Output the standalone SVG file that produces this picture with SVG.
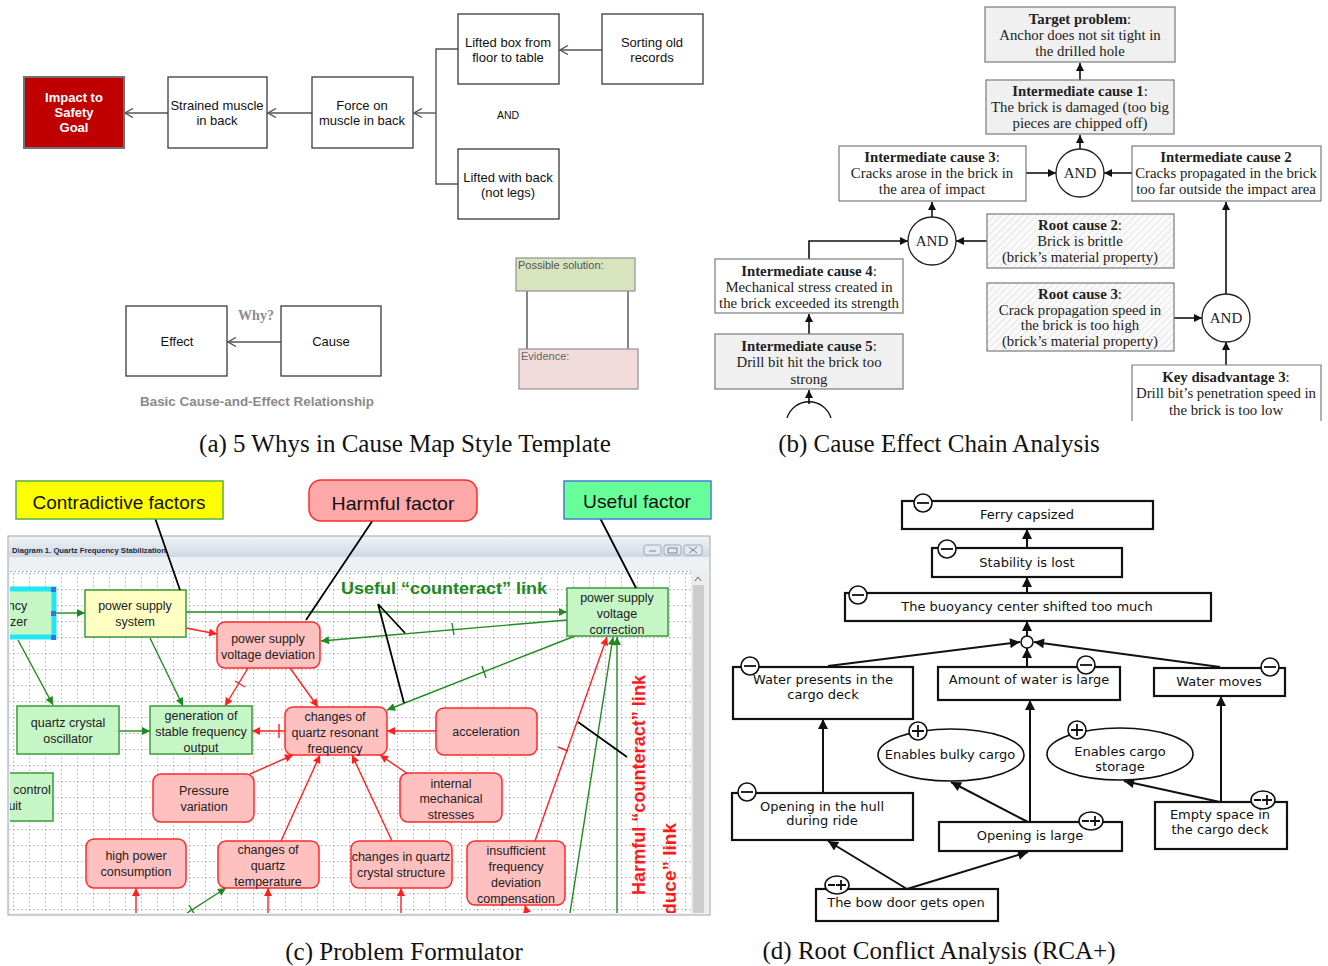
<svg xmlns="http://www.w3.org/2000/svg" width="1328" height="966" viewBox="0 0 1328 966">
<defs>
<style>
.a-box{fill:#fff;stroke:#3a3a3a;stroke-width:1.3}
.a-t{font-family:"Liberation Sans",Arial,sans-serif;font-size:13px;fill:#111;text-anchor:middle}
.a-ln{fill:none;stroke:#555;stroke-width:1.4}
.b-box{fill:#fff;stroke:#7a7a7a;stroke-width:1.2}
.b-gray{fill:#f0f0f0}
.b-hatch{fill:url(#hatch)}
.b-t{font-family:"Liberation Serif","Times New Roman",serif;font-size:14.8px;fill:#222;text-anchor:middle}
.b-ln{fill:none;stroke:#111;stroke-width:1.6}
.b-and{fill:#fff;stroke:#222;stroke-width:1.3}
.cap{font-family:"Liberation Serif","Times New Roman",serif;font-size:25px;fill:#111;text-anchor:middle}
.c-g{fill:#c6f5c6;stroke:#3b9a3b;stroke-width:1.5}
.c-y{fill:#ffffc4;stroke:#3b9a3b;stroke-width:1.5}
.c-r{fill:#ffc0c0;stroke:#ff2a2a;stroke-width:1.5}
.c-t{font-family:"Liberation Sans",Arial,sans-serif;font-size:12.5px;fill:#222;text-anchor:middle}
.c-gl{fill:none;stroke:#1f8a1f;stroke-width:1.4}
.c-rl{fill:none;stroke:#ff2020;stroke-width:1.4}
.c-bl{fill:none;stroke:#000;stroke-width:1.8}
.c-call{font-family:"Liberation Sans",Arial,sans-serif;font-size:19px;fill:#111;text-anchor:middle}
.d-box{fill:#fff;stroke:#111;stroke-width:2.2}
.d-t{font-family:"DejaVu Sans",Verdana,sans-serif;font-size:13px;fill:#111;text-anchor:middle}
.d-ln{fill:none;stroke:#111;stroke-width:2}
.sym{fill:#fff;stroke:#111;stroke-width:1.6}
.symln{fill:none;stroke:#111;stroke-width:1.8}
</style>
<pattern id="hatch" width="5" height="5" patternUnits="userSpaceOnUse" patternTransform="rotate(45)">
<rect width="5" height="5" fill="#fafafa"/>
<line x1="0" y1="0" x2="0" y2="5" stroke="#d2d2d2" stroke-width="1"/>
</pattern>
<pattern id="grid" x="13" y="573" width="16" height="16" patternUnits="userSpaceOnUse">
<path d="M0,0.5 H16 M0.5,0 V16" stroke="#b5b5b5" stroke-width="0.8" stroke-dasharray="2,2" fill="none"/>
</pattern>
<linearGradient id="title" x1="0" y1="0" x2="0" y2="1">
<stop offset="0" stop-color="#eef2f7"/>
<stop offset="1" stop-color="#cfd9e4"/>
</linearGradient>
<clipPath id="gridclip"><rect x="10" y="571" width="681" height="342"/></clipPath>
<clipPath id="bclip"><rect x="700" y="0" width="628" height="418"/></clipPath>
<marker id="mA" viewBox="0 0 10 10" refX="9" refY="5" markerWidth="10" markerHeight="10" orient="auto" markerUnits="userSpaceOnUse">
<path d="M1,0.5 L9,5 L1,9.5" fill="none" stroke="#555" stroke-width="1.4"/>
</marker>
<marker id="mB" viewBox="0 0 10 10" refX="10" refY="5" markerWidth="9" markerHeight="8" orient="auto" markerUnits="userSpaceOnUse">
<path d="M0,0 L10,5 L0,10 z" fill="#111"/>
</marker>
<marker id="mD" viewBox="0 0 10 10" refX="10" refY="5" markerWidth="11" markerHeight="10" orient="auto" markerUnits="userSpaceOnUse">
<path d="M0,0 L10,5 L0,10 z" fill="#111"/>
</marker>
<marker id="mG" viewBox="0 0 10 10" refX="10" refY="5" markerWidth="10" markerHeight="8" orient="auto" markerUnits="userSpaceOnUse">
<path d="M0,0 L10,5 L0,10 z" fill="#1f8a1f"/>
</marker>
<marker id="mR" viewBox="0 0 10 10" refX="10" refY="5" markerWidth="10" markerHeight="8" orient="auto" markerUnits="userSpaceOnUse">
<path d="M0,0 L10,5 L0,10 z" fill="#ff2020"/>
</marker>
</defs>
<rect width="1328" height="966" fill="#fff"/>

<!-- ================= Panel (a) ================= -->
<g id="panel-a">
<g id="a-connectors">
<path class="a-ln" d="M168,113 H125" marker-end="url(#mA)"/>
<path class="a-ln" d="M312,113 H268" marker-end="url(#mA)"/>
<path class="a-ln" d="M436,113 H414" marker-end="url(#mA)"/>
<path class="a-ln" d="M458,49 H436 V184 H458"/>
<path class="a-ln" d="M602,50 H560" marker-end="url(#mA)"/>
<path class="a-ln" d="M281,342 H228" marker-end="url(#mA)"/>
<path fill="none" stroke="#444" stroke-width="1.3" d="M527,291 V349 M628,291 V349"/>
</g>
<g id="a-impact">
<rect x="24" y="77" width="100" height="71" fill="#c00000" stroke="#707070" stroke-width="2"/>
<text class="a-t" style="fill:#fff;font-weight:bold"><tspan x="74" y="102">Impact to</tspan><tspan x="74" y="117">Safety</tspan><tspan x="74" y="132">Goal</tspan></text>
</g>
<g id="a-strained">
<rect class="a-box" x="168" y="77" width="99" height="71"/>
<text class="a-t"><tspan x="217" y="110">Strained muscle</tspan><tspan x="217" y="125">in back</tspan></text>
</g>
<g id="a-force">
<rect class="a-box" x="312" y="77" width="101" height="71"/>
<text class="a-t"><tspan x="362" y="110">Force on</tspan><tspan x="362" y="125">muscle in back</tspan></text>
</g>
<g id="a-lifted-box">
<rect class="a-box" x="458" y="14" width="101" height="70"/>
<text class="a-t"><tspan x="508" y="47">Lifted box from</tspan><tspan x="508" y="62">floor to table</tspan></text>
</g>
<g id="a-sorting">
<rect class="a-box" x="602" y="14" width="101" height="70"/>
<text class="a-t"><tspan x="652" y="47">Sorting old</tspan><tspan x="652" y="62">records</tspan></text>
</g>
<g id="a-lifted-back">
<rect class="a-box" x="458" y="149" width="101" height="70"/>
<text class="a-t"><tspan x="508" y="182">Lifted with back</tspan><tspan x="508" y="197">(not legs)</tspan></text>
</g>
<text class="a-t" x="508" y="119" style="font-size:10.5px">AND</text>
<g id="a-effect">
<rect class="a-box" x="126" y="306" width="101" height="70"/>
<text class="a-t" x="177" y="346">Effect</text>
</g>
<g id="a-cause">
<rect class="a-box" x="281" y="306" width="100" height="70"/>
<text class="a-t" x="331" y="346">Cause</text>
</g>
<text x="256" y="320" text-anchor="middle" font-family="Liberation Serif,serif" font-weight="bold" font-size="14" fill="#8a8a8a">Why?</text>
<text x="257" y="406" text-anchor="middle" font-family="Liberation Sans,Arial,sans-serif" font-weight="bold" font-size="12.5" fill="#8a8a8a" textLength="234" lengthAdjust="spacingAndGlyphs">Basic Cause-and-Effect Relationship</text>
<g id="a-solution">
<rect x="516" y="258" width="119" height="33" fill="#d7e4bd" stroke="#999" stroke-width="1.3"/>
<text x="518" y="269" font-family="Liberation Sans,Arial,sans-serif" font-size="11" fill="#555">Possible solution:</text>
</g>
<g id="a-evidence">
<rect x="519" y="349" width="119" height="40" fill="#f2dcdb" stroke="#999" stroke-width="1.3"/>
<text x="521" y="360" font-family="Liberation Sans,Arial,sans-serif" font-size="11" fill="#666">Evidence:</text>
</g>
<text class="cap" x="405" y="452">(a) 5 Whys in Cause Map Style Template</text>
</g>

<!-- ================= Panel (b) ================= -->
<g id="panel-b">
<g id="b-connectors">
<path class="b-ln" d="M1080,80 V63" marker-end="url(#mB)"/>
<path class="b-ln" d="M1080,149 V135" marker-end="url(#mB)"/>
<path class="b-ln" d="M1026,173 H1056" marker-end="url(#mB)"/>
<path class="b-ln" d="M1132,173 H1104" marker-end="url(#mB)"/>
<path class="b-ln" d="M932,217 V202" marker-end="url(#mB)"/>
<path class="b-ln" d="M987,241 H956" marker-end="url(#mB)"/>
<path class="b-ln" d="M809,259 V241 H908" marker-end="url(#mB)"/>
<path class="b-ln" d="M809,334 V314" marker-end="url(#mB)"/>
<path class="b-ln" d="M1174,318 H1202" marker-end="url(#mB)"/>
<path class="b-ln" d="M1226,294 V202" marker-end="url(#mB)"/>
<path class="b-ln" d="M1226,365 V342" marker-end="url(#mB)"/>
<path class="b-ln" d="M809,404 V390" marker-end="url(#mB)" clip-path="url(#bclip)"/>
<path fill="none" stroke="#111" stroke-width="1.4" d="M787,418 A23,23 0 0 1 831,418" clip-path="url(#bclip)"/>
</g>
<g id="b-target">
<rect class="b-box b-gray" x="985" y="7" width="190" height="55"/>
<text class="b-t"><tspan x="1080" y="24"><tspan font-weight="bold">Target problem</tspan>:</tspan><tspan x="1080" y="40">Anchor does not sit tight in</tspan><tspan x="1080" y="56">the drilled hole</tspan></text>
</g>
<g id="b-ic1">
<rect class="b-box b-gray" x="986" y="80" width="188" height="54"/>
<text class="b-t"><tspan x="1080" y="96"><tspan font-weight="bold">Intermediate cause 1</tspan>:</tspan><tspan x="1080" y="112">The brick is damaged (too big</tspan><tspan x="1080" y="128">pieces are chipped off)</tspan></text>
</g>
<g id="b-and1">
<circle class="b-and" cx="1080" cy="173" r="24"/>
<text class="b-t" x="1080" y="178" style="font-size:15px">AND</text>
</g>
<g id="b-ic3">
<rect class="b-box" x="839" y="146" width="187" height="55"/>
<text class="b-t"><tspan x="932" y="162"><tspan font-weight="bold">Intermediate cause 3</tspan>:</tspan><tspan x="932" y="178">Cracks arose in the brick in</tspan><tspan x="932" y="194">the area of impact</tspan></text>
</g>
<g id="b-ic2">
<rect class="b-box" x="1132" y="146" width="189" height="55"/>
<text class="b-t"><tspan x="1226" y="162" font-weight="bold">Intermediate cause 2</tspan><tspan x="1226" y="178">Cracks propagated in the brick</tspan><tspan x="1226" y="194">too far outside the impact area</tspan></text>
</g>
<g id="b-and2">
<circle class="b-and" cx="932" cy="241" r="24"/>
<text class="b-t" x="932" y="246" style="font-size:15px">AND</text>
</g>
<g id="b-rc2">
<rect class="b-box b-hatch" x="987" y="214" width="187" height="54"/>
<text class="b-t"><tspan x="1080" y="230"><tspan font-weight="bold">Root cause 2</tspan>:</tspan><tspan x="1080" y="246">Brick is brittle</tspan><tspan x="1080" y="262">(brick’s material property)</tspan></text>
</g>
<g id="b-ic4">
<rect class="b-box" x="715" y="259" width="188" height="54"/>
<text class="b-t"><tspan x="809" y="276"><tspan font-weight="bold">Intermediate cause 4</tspan>:</tspan><tspan x="809" y="292">Mechanical stress created in</tspan><tspan x="809" y="308">the brick exceeded its strength</tspan></text>
</g>
<g id="b-ic5">
<rect class="b-box b-gray" x="715" y="334" width="188" height="55"/>
<text class="b-t"><tspan x="809" y="351"><tspan font-weight="bold">Intermediate cause 5</tspan>:</tspan><tspan x="809" y="367">Drill bit hit the brick too</tspan><tspan x="809" y="384">strong</tspan></text>
</g>
<g id="b-rc3">
<rect class="b-box b-hatch" x="987" y="283" width="187" height="68"/>
<text class="b-t"><tspan x="1080" y="299"><tspan font-weight="bold">Root cause 3</tspan>:</tspan><tspan x="1080" y="315">Crack propagation speed in</tspan><tspan x="1080" y="330">the brick is too high</tspan><tspan x="1080" y="346">(brick’s material property)</tspan></text>
</g>
<g id="b-and3">
<circle class="b-and" cx="1226" cy="318" r="24"/>
<text class="b-t" x="1226" y="323" style="font-size:15px">AND</text>
</g>
<g id="b-kd3">
<path d="M1132,421 V365 H1321 V421" fill="#fff" stroke="#7a7a7a" stroke-width="1.2"/>
<text class="b-t"><tspan x="1226" y="382"><tspan font-weight="bold">Key disadvantage 3</tspan>:</tspan><tspan x="1226" y="398">Drill bit’s penetration speed in</tspan><tspan x="1226" y="415">the brick is too low</tspan></text>
</g>
<text class="cap" x="939" y="452">(b) Cause Effect Chain Analysis</text>
</g>

<!-- ================= Panel (c) ================= -->
<g id="panel-c">
<g id="c-window">
<rect x="8" y="536" width="702" height="379" fill="#f1f3f6" stroke="#9aa5b1" stroke-width="1"/>
<rect x="9" y="537" width="700" height="20" fill="url(#title)"/>
<text x="12" y="553" font-family="Liberation Sans,Arial,sans-serif" font-weight="bold" font-size="7.5" fill="#1a2a40" textLength="154" lengthAdjust="spacingAndGlyphs">Diagram 1. Quartz Frequency Stabilization</text>
<rect x="644" y="545" width="17" height="10" rx="2" fill="#e4e9ef" stroke="#8d99a6" stroke-width="0.8"/>
<rect x="664" y="545" width="17" height="10" rx="2" fill="#e4e9ef" stroke="#8d99a6" stroke-width="0.8"/>
<rect x="684" y="545" width="18" height="10" rx="2" fill="#e4e9ef" stroke="#8d99a6" stroke-width="0.8"/>
<path d="M649,551 H656 M668,548 h9 v5 h-9 z M689,547 L697,553 M697,547 L689,553" stroke="#6c7784" stroke-width="0.9" fill="none"/>
<rect x="9" y="557" width="700" height="14" fill="#eef1f4"/>
<rect x="10" y="571" width="681" height="342" fill="#fff"/>
<rect x="10" y="571" width="681" height="342" fill="url(#grid)"/>
<line x1="10" y1="571.5" x2="691" y2="571.5" stroke="#999" stroke-width="0.8" stroke-dasharray="2,2"/>
<rect x="691" y="571" width="17" height="342" fill="#ececec"/>
<rect x="693" y="585" width="11" height="328" fill="#cdcdcd"/>
<path d="M695,581 L698,577 L701,581" fill="none" stroke="#666" stroke-width="1"/>
</g>

<g id="c-connectors" clip-path="url(#gridclip)">
<path class="c-gl" d="M56,613 H85" marker-end="url(#mG)"/>
<path class="c-gl" d="M186,612 H567" marker-end="url(#mG)"/>
<path class="c-gl" d="M567,620 L321,641" marker-end="url(#mG)"/>
<path class="c-gl" d="M452,623 L454,635"/>
<path class="c-gl" d="M575,636 L387,710" marker-end="url(#mG)"/>
<path class="c-gl" d="M482,666 L486,678"/>
<path class="c-gl" d="M150,638 L183,706" marker-end="url(#mG)"/>
<path class="c-gl" d="M18,640 L53,705" marker-end="url(#mG)"/>
<path class="c-gl" d="M119,731 H150" marker-end="url(#mG)"/>
<path class="c-gl" d="M570,913 L613,637" marker-end="url(#mG)"/>
<path class="c-gl" d="M617,913 V637" marker-end="url(#mG)"/>
<path class="c-gl" d="M187,913 L226,888" marker-end="url(#mG)"/>
<path class="c-gl" d="M189,905 L195,915"/>

<path class="c-rl" d="M186,628 L217,634" marker-end="url(#mR)"/>
<path class="c-rl" d="M248,668 L225,706" marker-end="url(#mR)"/>
<path class="c-rl" d="M235,681 L245,687"/>
<path class="c-rl" d="M290,668 L318,707" marker-end="url(#mR)"/>
<path class="c-rl" d="M285,731 H252" marker-end="url(#mR)"/>
<path class="c-rl" d="M279,724 V738"/>
<path class="c-rl" d="M436,731 H387" marker-end="url(#mR)"/>
<path class="c-rl" d="M250,774 L293,755" marker-end="url(#mR)"/>
<path class="c-rl" d="M281,841 L320,755" marker-end="url(#mR)"/>
<path class="c-rl" d="M392,841 L352,755" marker-end="url(#mR)"/>
<path class="c-rl" d="M408,774 L380,755" marker-end="url(#mR)"/>
<path class="c-rl" d="M535,841 L607,637" marker-end="url(#mR)"/>
<path class="c-rl" d="M558,747 L568,751"/>
<path class="c-rl" d="M136,913 V888" marker-end="url(#mR)"/>
<path class="c-rl" d="M268,913 V888" marker-end="url(#mR)"/>
<path class="c-rl" d="M401,913 V888" marker-end="url(#mR)"/>
<path class="c-rl" d="M527,913 L525,905" marker-end="url(#mR)"/>
</g>

<g id="c-nodes" clip-path="url(#gridclip)">
<g id="c-stabilizer">
<rect x="0" y="589" width="54" height="48" fill="#c6f5c6" stroke="#22e6f2" stroke-width="5"/>
<rect x="51" y="587" width="5" height="5" fill="#3d6fe0"/>
<rect x="51" y="611" width="5" height="5" fill="#3d6fe0"/>
<rect x="51" y="635" width="5" height="5" fill="#3d6fe0"/>
<text class="c-t" x="14" y="610">ency</text>
<text class="c-t" x="16" y="626">lizer</text>
</g>
<g id="c-ps-system">
<rect class="c-y" x="85" y="590" width="101" height="47"/>
<text class="c-t"><tspan x="135" y="610">power supply</tspan><tspan x="135" y="626">system</tspan></text>
</g>
<g id="c-deviation">
<rect class="c-r" x="217" y="622" width="103" height="46" rx="8"/>
<text class="c-t"><tspan x="268" y="643">power supply</tspan><tspan x="268" y="659">voltage deviation</tspan></text>
</g>
<g id="c-correction">
<rect class="c-g" x="567" y="588" width="101" height="48"/>
<text class="c-t"><tspan x="617" y="602">power supply</tspan><tspan x="617" y="618">voltage</tspan><tspan x="617" y="634">correction</tspan></text>
</g>
<g id="c-oscillator">
<rect class="c-g" x="17" y="706" width="102" height="48"/>
<text class="c-t"><tspan x="68" y="727">quartz crystal</tspan><tspan x="68" y="743">oscillator</tspan></text>
</g>
<g id="c-generation">
<rect class="c-g" x="150" y="706" width="102" height="48"/>
<text class="c-t"><tspan x="201" y="720">generation of</tspan><tspan x="201" y="736">stable  frequency</tspan><tspan x="201" y="752">output</tspan></text>
</g>
<g id="c-resonant">
<rect class="c-r" x="285" y="707" width="102" height="48" rx="8"/>
<text class="c-t"><tspan x="335" y="721">changes of</tspan><tspan x="335" y="737">quartz resonant</tspan><tspan x="335" y="753">frequency</tspan></text>
</g>
<g id="c-acceleration">
<rect class="c-r" x="436" y="708" width="101" height="47" rx="8"/>
<text class="c-t" x="486" y="736">acceleration</text>
</g>
<g id="c-control">
<rect class="c-g" x="-10" y="773" width="63" height="48"/>
<text class="c-t" x="32" y="794">control</text>
<text class="c-t" x="15" y="810">uit</text>
</g>
<g id="c-pressure">
<rect class="c-r" x="153" y="774" width="101" height="48" rx="8"/>
<text class="c-t"><tspan x="204" y="795">Pressure</tspan><tspan x="204" y="811">variation</tspan></text>
</g>
<g id="c-internal">
<rect class="c-r" x="400" y="773" width="102" height="49" rx="8"/>
<text class="c-t"><tspan x="451" y="788">internal</tspan><tspan x="451" y="803">mechanical</tspan><tspan x="451" y="819">stresses</tspan></text>
</g>
<g id="c-highpower">
<rect class="c-r" x="86" y="839" width="100" height="49" rx="8"/>
<text class="c-t"><tspan x="136" y="860">high power</tspan><tspan x="136" y="876">consumption</tspan></text>
</g>
<g id="c-temperature">
<rect class="c-r" x="218" y="841" width="101" height="47" rx="8"/>
<text class="c-t"><tspan x="268" y="854">changes of</tspan><tspan x="268" y="870">quartz</tspan><tspan x="268" y="886">temperature</tspan></text>
</g>
<g id="c-structure">
<rect class="c-r" x="351" y="841" width="101" height="47" rx="8"/>
<text class="c-t"><tspan x="401" y="861">changes in quartz</tspan><tspan x="401" y="877">crystal  structure</tspan></text>
</g>
<g id="c-insufficient">
<rect class="c-r" x="467" y="841" width="98" height="64" rx="8"/>
<text class="c-t"><tspan x="516" y="855">insufficient</tspan><tspan x="516" y="871">frequency</tspan><tspan x="516" y="887">deviation</tspan><tspan x="516" y="903">compensation</tspan></text>
</g>
<text x="0" y="0" transform="translate(645,785) rotate(-90)" text-anchor="middle" font-family="Liberation Sans,Arial,sans-serif" font-weight="bold" font-size="19" fill="#ff1a1a" textLength="220" lengthAdjust="spacingAndGlyphs">Harmful “counteract” link</text>
<text x="0" y="0" transform="translate(676,823) rotate(-90)" text-anchor="end" font-family="Liberation Sans,Arial,sans-serif" font-weight="bold" font-size="19" fill="#ff1a1a">duce”  link</text>
</g>

<g id="c-callouts">
<path class="c-bl" d="M155,518 L180,590 M373,520 L306,620 M600,518 L636,588 M378,604 L405,633 M378,604 L404,703 M578,722 L627,757"/>
<g id="c-contradictive">
<rect x="16" y="481" width="207" height="38" fill="#ffff00" stroke="#55b04a" stroke-width="1.5"/>
<text class="c-call" x="119" y="509" textLength="173" lengthAdjust="spacingAndGlyphs">Contradictive factors</text>
</g>
<g id="c-harmful">
<rect x="309" y="480" width="168" height="41" rx="12" fill="#ffa8a8" stroke="#ff2a2a" stroke-width="1.5"/>
<text class="c-call" x="393" y="510" textLength="123" lengthAdjust="spacingAndGlyphs">Harmful factor</text>
</g>
<g id="c-useful">
<rect x="564" y="481" width="147" height="38" fill="#66ff99" stroke="#4a7ad8" stroke-width="1.5"/>
<text class="c-call" x="637" y="508" textLength="108" lengthAdjust="spacingAndGlyphs">Useful factor</text>
</g>
<text x="444" y="594" text-anchor="middle" font-family="Liberation Sans,Arial,sans-serif" font-weight="bold" font-size="17" fill="#1a8a1a" textLength="206" lengthAdjust="spacingAndGlyphs">Useful “counteract” link</text>
</g>
<text class="cap" x="404" y="960">(c) Problem Formulator</text>
</g>

<!-- ================= Panel (d) ================= -->
<g id="panel-d">
<g id="d-connectors">
<path class="d-ln" d="M1027,549 V529" marker-end="url(#mD)"/>
<path class="d-ln" d="M1027,593 V577" marker-end="url(#mD)"/>
<path class="d-ln" d="M1027,636 V621" marker-end="url(#mD)"/>
<path class="d-ln" d="M828,666 L1020,642" marker-end="url(#mD)"/>
<path class="d-ln" d="M1027,667 V648" marker-end="url(#mD)"/>
<path class="d-ln" d="M1220,667 L1034,642" marker-end="url(#mD)"/>
<path class="d-ln" d="M823,794 V719" marker-end="url(#mD)"/>
<path class="d-ln" d="M1030,822 V700" marker-end="url(#mD)"/>
<path class="d-ln" d="M1028,822 L951,782" marker-end="url(#mD)"/>
<path class="d-ln" d="M1221,802 V696" marker-end="url(#mD)"/>
<path class="d-ln" d="M1220,802 L1124,781" marker-end="url(#mD)"/>
<path class="d-ln" d="M907,889 L828,841" marker-end="url(#mD)"/>
<path class="d-ln" d="M907,889 L1028,852" marker-end="url(#mD)"/>
<circle cx="1027" cy="642" r="6" fill="#fff" stroke="#111" stroke-width="1.6"/>
</g>
<g id="d-ferry">
<rect class="d-box" x="902" y="501" width="251" height="28"/>
<text class="d-t" x="1027" y="519">Ferry capsized</text>
<circle class="sym" cx="923" cy="503" r="9"/><path class="symln" d="M917,503 H929"/>
</g>
<g id="d-stability">
<rect class="d-box" x="932" y="548" width="190" height="29"/>
<text class="d-t" x="1027" y="567">Stability is lost</text>
<circle class="sym" cx="947" cy="549" r="9"/><path class="symln" d="M941,549 H953"/>
</g>
<g id="d-buoyancy">
<rect class="d-box" x="845" y="593" width="366" height="28"/>
<text class="d-t" x="1027" y="611">The buoyancy center shifted too much</text>
<circle class="sym" cx="858" cy="595" r="9"/><path class="symln" d="M852,595 H864"/>
</g>
<g id="d-water-presents">
<rect class="d-box" x="733" y="667" width="180" height="52"/>
<text class="d-t"><tspan x="823" y="684">Water presents in the</tspan><tspan x="823" y="699">cargo deck</tspan></text>
<circle class="sym" cx="750" cy="666" r="9"/><path class="symln" d="M744,666 H756"/>
</g>
<g id="d-amount">
<rect class="d-box" x="938" y="667" width="182" height="33"/>
<text class="d-t" x="1029" y="684">Amount of water is large</text>
<circle class="sym" cx="1086" cy="665" r="9"/><path class="symln" d="M1080,665 H1092"/>
</g>
<g id="d-water-moves">
<rect class="d-box" x="1154" y="668" width="131" height="28"/>
<text class="d-t" x="1219" y="686">Water moves</text>
<circle class="sym" cx="1270" cy="667" r="9"/><path class="symln" d="M1264,667 H1276"/>
</g>
<g id="d-bulky">
<ellipse cx="951" cy="755" rx="73" ry="26" fill="#fff" stroke="#111" stroke-width="1.6"/>
<text class="d-t" x="950" y="759">Enables bulky cargo</text>
<circle class="sym" cx="918" cy="731" r="9"/><path class="symln" d="M912,731 H924 M918,725 V737"/>
</g>
<g id="d-storage">
<ellipse cx="1120" cy="754" rx="73" ry="26" fill="#fff" stroke="#111" stroke-width="1.6"/>
<text class="d-t"><tspan x="1120" y="756">Enables cargo</tspan><tspan x="1120" y="771">storage</tspan></text>
<circle class="sym" cx="1077" cy="730" r="9"/><path class="symln" d="M1071,730 H1083 M1077,724 V736"/>
</g>
<g id="d-hull">
<rect class="d-box" x="732" y="793" width="181" height="47"/>
<text class="d-t"><tspan x="822" y="811">Opening in the hull</tspan><tspan x="822" y="825">during ride</tspan></text>
<circle class="sym" cx="747" cy="792" r="9"/><path class="symln" d="M741,792 H753"/>
</g>
<g id="d-large">
<rect class="d-box" x="939" y="822" width="183" height="29"/>
<text class="d-t" x="1030" y="840">Opening is large</text>
<ellipse class="sym" cx="1091" cy="821" rx="12" ry="9"/><path class="symln" d="M1082,821 H1089 M1090,821 H1100 M1095,816 V826"/>
</g>
<g id="d-empty">
<rect class="d-box" x="1155" y="802" width="132" height="47"/>
<text class="d-t"><tspan x="1220" y="819">Empty space in</tspan><tspan x="1220" y="834">the cargo deck</tspan></text>
<ellipse class="sym" cx="1263" cy="800" rx="12" ry="9"/><path class="symln" d="M1254,800 H1261 M1262,800 H1272 M1267,795 V805"/>
</g>
<g id="d-bowdoor">
<rect class="d-box" x="816" y="889" width="182" height="32"/>
<text class="d-t" x="906" y="907">The bow door gets open</text>
<ellipse class="sym" cx="837" cy="885" rx="12" ry="9"/><path class="symln" d="M828,885 H835 M836,885 H846 M841,880 V890"/>
</g>
<text class="cap" x="939" y="959">(d) Root Conflict Analysis (RCA+)</text>
</g>
</svg>
